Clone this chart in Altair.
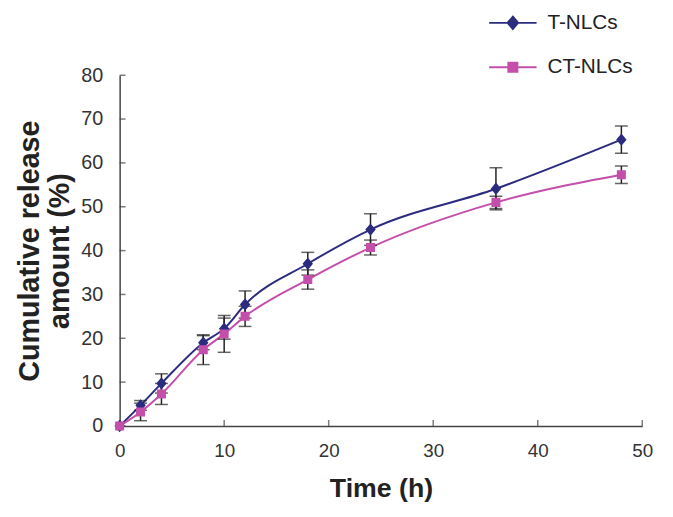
import altair as alt
import pandas as pd

# ---- data ----
time_h = [0, 2, 4, 8, 10, 12, 18, 24, 36, 48]
t_nlcs = [0, 4.7, 9.7, 19.0, 22.2, 27.7, 37.0, 44.8, 54.1, 65.3]
t_err = [0, 1.1, 2.2, 1.6, 2.4, 3.1, 2.6, 3.6, 4.8, 3.1]
ct_nlcs = [0, 3.2, 7.3, 17.4, 21.0, 25.0, 33.4, 40.7, 51.0, 57.3]
ct_err = [0, 2.0, 2.4, 3.4, 4.2, 2.3, 2.2, 1.7, 1.4, 2.0]
series_names = ["T-NLCs", "CT-NLCs"]
series_colors = ["#2B2C7F", "#C44FAB"]
x_ticks = [0, 10, 20, 30, 40, 50]
y_ticks = [0, 10, 20, 30, 40, 50, 60, 70, 80]

# marker shapes: a horizontal stroke (only visible in the legend) plus the marker
diamond_path = "M-1,0L1,0M0,-0.26L0.22,0L0,0.26L-0.22,0Z"
square_path = "M-1,0L1,0M-0.19,-0.19L0.19,-0.19L0.19,0.19L-0.19,0.19Z"

rows = []
for name, vals, errs in [(series_names[0], t_nlcs, t_err), (series_names[1], ct_nlcs, ct_err)]:
    for t, v, e in zip(time_h, vals, errs):
        rows.append({"time": t, "value": v, "lo": v - e, "hi": v + e, "err": e, "series": name})
df = pd.DataFrame(rows)
err_df = df[df["err"] > 0]
xt_df = pd.DataFrame({"v": x_ticks})
yt_df = pd.DataFrame({"v": y_ticks})

FONT = "Liberation Sans"
xscale = alt.Scale(domain=[0, 50], nice=False, zero=True)
yscale = alt.Scale(domain=[0, 80], nice=False, zero=True)
cscale = alt.Scale(domain=series_names, range=series_colors)
sscale = alt.Scale(domain=series_names, range=[diamond_path, square_path])

x_enc = alt.X(
    "time:Q", scale=xscale,
    axis=alt.Axis(values=x_ticks, ticks=False, tickSize=0, grid=False, labelFlush=False,
                  labelFontSize=19, labelPadding=16, labelColor="#333", labelFont=FONT,
                  title="Time (h)", titleFontSize=27, titleFont=FONT, titleFontWeight="bold",
                  titleColor="#222", titleY=63, titleBaseline="middle",
                  domainColor="#444", domainWidth=1.5),
)
y_enc = alt.Y(
    "value:Q", scale=yscale,
    axis=alt.Axis(values=y_ticks, ticks=False, tickSize=0, grid=False, labelFlush=False,
                  labelFontSize=20, labelPadding=17, labelColor="#333", labelFont=FONT,
                  title=["Cumulative release", "amount (%)"], titleFontSize=29,
                  titleFont=FONT, titleFontWeight="bold", titleColor="#222",
                  titleLineHeight=30, titleAngle=-90, titleX=-91, titleY=177.5,
                  titleBaseline="middle", titleAlign="center",
                  domainColor="#444", domainWidth=1.5),
)

line_layers = []
for i, name in enumerate(series_names):
    line_layers.append(
        alt.Chart(df).transform_filter(alt.datum.series == name)
        .mark_line(strokeWidth=2, interpolate="monotone", color=series_colors[i])
        .encode(x=x_enc, y=y_enc)
    )

bars = alt.Chart(err_df).mark_rule(color="#222", strokeWidth=1.5).encode(
    x=alt.X("time:Q", scale=xscale), y=alt.Y("lo:Q", scale=yscale), y2="hi:Q"
)
caps_lo = alt.Chart(err_df).mark_tick(orient="horizontal", size=13, thickness=1.5, color="#222").encode(
    x=alt.X("time:Q", scale=xscale), y=alt.Y("lo:Q", scale=yscale)
)
caps_hi = alt.Chart(err_df).mark_tick(orient="horizontal", size=13, thickness=1.5, color="#222").encode(
    x=alt.X("time:Q", scale=xscale), y=alt.Y("hi:Q", scale=yscale)
)

legend = alt.Legend(
    title=None, orient="none", legendX=373, legendY=-78, padding=0,
    symbolSize=2304, symbolStrokeWidth=2, symbolOpacity=1,
    labelFontSize=21, labelFont=FONT, labelColor="#222", labelOffset=10,
    rowPadding=9,
)
points = alt.Chart(df).mark_point(filled=True, size=2304, strokeWidth=0, opacity=1).encode(
    x=alt.X("time:Q", scale=xscale), y=alt.Y("value:Q", scale=yscale),
    fill=alt.Fill("series:N", scale=cscale, legend=legend),
    stroke=alt.Stroke("series:N", scale=cscale, legend=legend),
    shape=alt.Shape("series:N", scale=sscale, legend=legend),
)

yticks = alt.Chart(yt_df).mark_tick(orient="horizontal", size=6, thickness=1.5, color="#444", xOffset=3).encode(
    y=alt.Y("v:Q", scale=yscale), x=alt.datum(0, scale=xscale)
)
xticks = alt.Chart(xt_df).mark_tick(orient="vertical", size=6, thickness=1.5, color="#444", yOffset=-3).encode(
    x=alt.X("v:Q", scale=xscale), y=alt.datum(0, scale=yscale)
)

chart = alt.layer(*line_layers, bars, caps_lo, caps_hi, yticks, xticks, points).properties(
    width=529, height=355,
    autosize=alt.AutoSizeParams(type="none"),
    padding={"left": 113, "top": 65, "right": 23, "bottom": 81},
).configure_view(stroke="transparent")

chart.save("out.html", embed_options={"renderer": "svg", "actions": False})
